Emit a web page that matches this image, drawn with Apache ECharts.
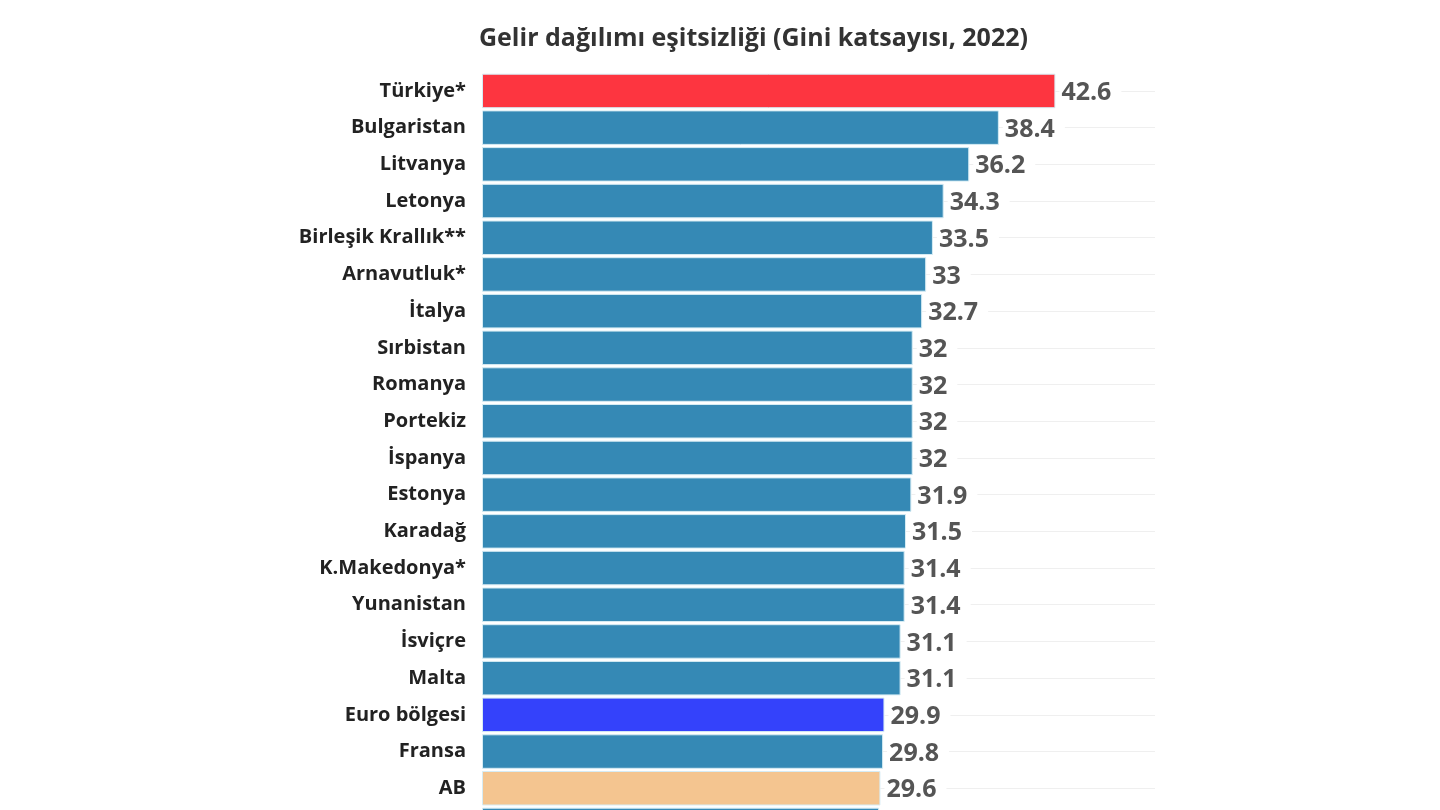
<!DOCTYPE html>
<html>
<head>
<meta charset="utf-8">
<script src="https://cdn.jsdelivr.net/npm/echarts@6/dist/echarts.min.js"></script>
<style>
  html, body { margin: 0; padding: 0; background: #fff; overflow: hidden; }
  #chart { width: 1440px; height: 850px; }
</style>
</head>
<body>
<div id="chart"></div>
<script>
// ülkeler (yukarıdan aşağıya)
const countries = [
  'Türkiye*', 'Bulgaristan', 'Litvanya', 'Letonya', 'Birleşik Krallık**',
  'Arnavutluk*', 'İtalya', 'Sırbistan', 'Romanya', 'Portekiz', 'İspanya',
  'Estonya', 'Karadağ', 'K.Makedonya*', 'Yunanistan', 'İsviçre', 'Malta',
  'Euro bölgesi', 'Fransa', 'AB', 'Lüksemburg'
];
const gini = [
  42.6, 38.4, 36.2, 34.3, 33.5,
  33, 32.7, 32, 32, 32, 32,
  31.9, 31.5, 31.4, 31.4, 31.1, 31.1,
  29.9, 29.8, 29.6, 29.5
];
// vurgulanan çubuklar
const highlight = {
  'Türkiye*': '#fd3540',
  'Euro bölgesi': '#3442fb',
  'AB': '#f4c590'
};
const baseColor = '#3589b5';
const axisMax = 50;

const chart = echarts.init(document.getElementById('chart'));
const font = '"Open Sans", "Noto Sans", sans-serif';

chart.setOption({
  animation: false,
  title: {
    text: 'Gelir dağılımı eşitsizliği (Gini katsayısı, 2022)',
    left: 474,
    top: 21,
    textStyle: { fontFamily: font, fontSize: 25, fontWeight: 'bold', color: '#333' }
  },
  grid: { left: 482, right: 285, top: 72.6, bottom: 6.7, containLabel: false },
  xAxis: {
    type: 'value',
    min: 0,
    max: axisMax,
    show: false
  },
  yAxis: {
    type: 'category',
    inverse: true,
    data: countries,
    axisLine: { show: false },
    axisTick: { show: false },
    splitLine: { show: false },
    axisLabel: {
      margin: 16,
      padding: [4, 0, 0, 0],
      fontFamily: font,
      fontSize: 20,
      fontWeight: 'bold',
      color: '#222'
    }
  },
  series: [
    {
      type: 'bar',
      barCategoryGap: '6%',
      data: gini.map((v, i) => ({
        value: v,
        itemStyle: { color: highlight[countries[i]] || baseColor }
      })),
      itemStyle: { borderColor: '#d6ecf4', borderWidth: 1 },
      label: {
        show: true,
        position: 'right',
        distance: 4,
        offset: [0, 2],
        fontFamily: font,
        fontSize: 25,
        fontWeight: 'bold',
        color: '#555',
        backgroundColor: '#fff',
        padding: [0, 10, 0, 2]
      },
      // satır kılavuz çizgileri: çubuk ucundan eksen sonuna
      markLine: {
        silent: true,
        symbol: 'none',
        z: 1,
        label: { show: false },
        lineStyle: { color: '#efefef', type: 'solid', width: 1 },
        data: countries.map((c, i) => [
          { coord: [gini[i], c] },
          { coord: [axisMax, c] }
        ])
      }
    }
  ]
});
</script>
</body>
</html>
